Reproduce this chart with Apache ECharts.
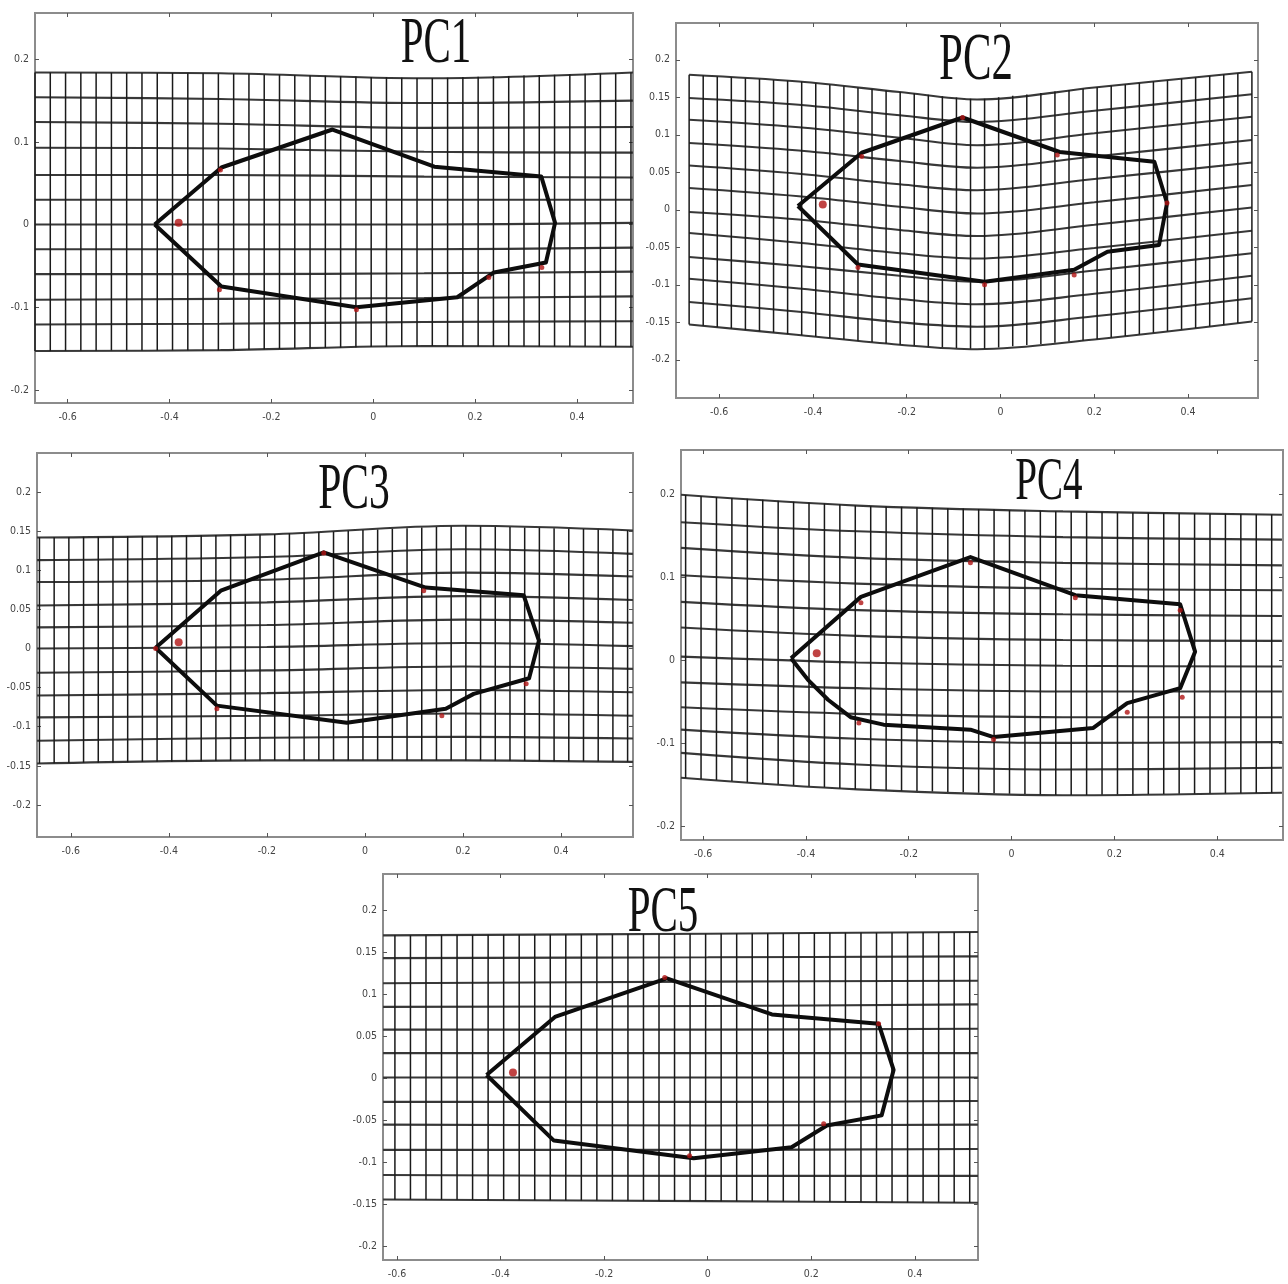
<!DOCTYPE html>
<html><head><meta charset="utf-8">
<script src="https://cdn.jsdelivr.net/npm/echarts@6/dist/echarts.min.js"></script>
<style>html,body{margin:0;padding:0;background:#fff}#c{width:1288px;height:1284px}</style>
</head><body><div id="c"></div>
<script>
// ---------- data ----------
const panelNames = ['PC1', 'PC2', 'PC3', 'PC4', 'PC5'];
const xTickValues = [-0.6, -0.4, -0.2, 0, 0.2, 0.4];
const yTicksCoarse = [-0.2, -0.1, 0, 0.1, 0.2];
const yTicksFine = [-0.2, -0.15, -0.1, -0.05, 0, 0.05, 0.1, 0.15, 0.2];

// x positions of the vertical lines of the deformation grids
const gridColumns = [-0.664, -0.634, -0.604, -0.574, -0.544, -0.514, -0.484, -0.454, -0.424, -0.394,
  -0.364, -0.334, -0.304, -0.274, -0.244, -0.214, -0.184, -0.154, -0.124, -0.094,
  -0.064, -0.034, -0.004, 0.026, 0.056, 0.086, 0.116, 0.146, 0.176, 0.206,
  0.236, 0.266, 0.296, 0.326, 0.356, 0.386, 0.416, 0.446, 0.476, 0.506, 0.536];

// horizontal grid lines: y at each station x (top row first)
const pc1Stations = [-0.664, -0.3, 0.1, 0.51];
const pc1Rows = [
  [0.184, 0.183, 0.177, 0.184], [0.154, 0.152, 0.147, 0.150], [0.124, 0.122, 0.117, 0.118], [0.093, 0.092, 0.088, 0.087],
  [0.060, 0.060, 0.058, 0.057], [0.030, 0.030, 0.030, 0.030], [0.000, 0.000, 0.000, 0.002], [-0.030, -0.030, -0.030, -0.028],
  [-0.060, -0.060, -0.059, -0.057], [-0.091, -0.090, -0.089, -0.087], [-0.121, -0.120, -0.118, -0.117], [-0.153, -0.152, -0.147, -0.148]];
const pc2Stations = [-0.664, -0.43, -0.215, -0.05, 0.2, 0.536];
const pc2Rows = [
  [0.180, 0.171, 0.157, 0.147, 0.163, 0.184], [0.149, 0.140, 0.126, 0.117, 0.132, 0.154],
  [0.120, 0.110, 0.096, 0.086, 0.102, 0.124], [0.089, 0.079, 0.065, 0.056, 0.071, 0.093],
  [0.059, 0.048, 0.034, 0.026, 0.041, 0.063], [0.029, 0.018, 0.004, -0.005, 0.010, 0.033],
  [-0.003, -0.013, -0.027, -0.035, -0.020, 0.003], [-0.031, -0.044, -0.058, -0.065, -0.051, -0.028],
  [-0.063, -0.075, -0.088, -0.096, -0.081, -0.058], [-0.092, -0.105, -0.119, -0.126, -0.112, -0.088],
  [-0.123, -0.136, -0.150, -0.156, -0.142, -0.118], [-0.153, -0.167, -0.180, -0.186, -0.173, -0.149]];
const pc3Stations = [-0.669, -0.2, 0.2, 0.547];
const pc3Rows = [
  [0.142, 0.146, 0.157, 0.151], [0.113, 0.117, 0.127, 0.121], [0.085, 0.088, 0.097, 0.092], [0.055, 0.059, 0.067, 0.062],
  [0.027, 0.030, 0.037, 0.033], [0.000, 0.002, 0.007, 0.003], [-0.031, -0.028, -0.023, -0.026], [-0.060, -0.057, -0.053, -0.056],
  [-0.088, -0.086, -0.083, -0.086], [-0.118, -0.114, -0.113, -0.115], [-0.147, -0.143, -0.143, -0.145]];
const pc4Stations = [-0.643, -0.3, 0.1, 0.526];
const pc4Rows = [
  [0.199, 0.186, 0.179, 0.175], [0.166, 0.155, 0.148, 0.145], [0.135, 0.123, 0.117, 0.114], [0.102, 0.092, 0.086, 0.084],
  [0.070, 0.060, 0.055, 0.053], [0.039, 0.029, 0.024, 0.023], [0.004, -0.003, -0.007, -0.008], [-0.027, -0.034, -0.038, -0.038],
  [-0.057, -0.065, -0.069, -0.069], [-0.084, -0.095, -0.100, -0.099], [-0.112, -0.126, -0.132, -0.130], [-0.142, -0.156, -0.163, -0.160]];
const pc5Stations = [-0.627, 0.0, 0.522];
const pc5Rows = [
  [0.170, 0.172, 0.174], [0.143, 0.144, 0.145], [0.113, 0.115, 0.116], [0.085, 0.086, 0.088],
  [0.058, 0.058, 0.059], [0.030, 0.030, 0.030], [0.001, 0.001, 0.001], [-0.028, -0.028, -0.027],
  [-0.055, -0.056, -0.055], [-0.085, -0.085, -0.084], [-0.115, -0.116, -0.116], [-0.144, -0.146, -0.148]];

// outlines (closed polygons)
const pc1OutlineX = [-0.429, -0.298, -0.080, 0.120, 0.330, 0.357, 0.339, 0.237, 0.165, -0.033, -0.298, -0.429];
const pc1OutlineY = [0.000, 0.069, 0.115, 0.070, 0.058, 0.002, -0.046, -0.058, -0.088, -0.100, -0.075, 0.000];
const pc2OutlineX = [-0.432, -0.296, -0.081, 0.126, 0.328, 0.355, 0.338, 0.228, 0.157, -0.034, -0.304, -0.432];
const pc2OutlineY = [0.005, 0.076, 0.123, 0.077, 0.064, 0.009, -0.047, -0.056, -0.080, -0.096, -0.073, 0.005];
const pc3OutlineX = [-0.427, -0.294, -0.084, 0.124, 0.324, 0.355, 0.335, 0.222, 0.165, -0.037, -0.302, -0.427];
const pc3OutlineY = [0.001, 0.074, 0.123, 0.078, 0.068, 0.010, -0.038, -0.058, -0.077, -0.095, -0.073, 0.001];
const pc4OutlineX = [-0.429, -0.293, -0.080, 0.124, 0.328, 0.357, 0.328, 0.225, 0.159, -0.035, -0.080, -0.249, -0.313, -0.357, -0.396, -0.429];
const pc4OutlineY = [0.002, 0.076, 0.124, 0.078, 0.067, 0.010, -0.034, -0.052, -0.082, -0.093, -0.084, -0.078, -0.069, -0.048, -0.024, 0.002];
const pc5OutlineX = [-0.427, -0.295, -0.079, 0.124, 0.330, 0.359, 0.336, 0.230, 0.162, -0.027, -0.297, -0.427];
const pc5OutlineY = [0.004, 0.073, 0.119, 0.076, 0.065, 0.010, -0.044, -0.056, -0.082, -0.095, -0.074, 0.004];

// red landmark points (first = interior landmark)
const pc1Landmarks = [[-0.382, 0.002], [-0.300, 0.066], [-0.302, -0.079], [0.227, -0.064], [-0.033, -0.103], [0.331, -0.052]];
const pc2Landmarks = [[-0.379, 0.007], [-0.296, 0.071], [0.355, 0.009], [0.157, -0.087], [-0.034, -0.100], [0.121, 0.073], [-0.304, -0.077], [-0.081, 0.123]];
const pc3Landmarks = [[-0.380, 0.008], [-0.427, 0.000], [-0.302, -0.077], [0.120, 0.074], [0.329, -0.045], [0.157, -0.086], [-0.084, 0.122]];
const pc4Landmarks = [[-0.379, 0.008], [-0.297, -0.076], [-0.293, 0.069], [-0.080, 0.117], [0.124, 0.075], [0.328, 0.060], [0.332, -0.045], [0.225, -0.063], [-0.035, -0.096]];
const pc5Landmarks = [[-0.376, 0.007], [-0.083, 0.120], [-0.035, -0.092], [0.224, -0.054], [0.330, 0.065]];

// ---------- layout (pixel boxes and axis ranges) ----------
const panels = [
  {box: [35, 13, 633, 403], xr: [-0.664, 0.51], yr: [-0.216, 0.256], yTicks: yTicksCoarse, st: pc1Stations, rows: pc1Rows, ox: pc1OutlineX, oy: pc1OutlineY, lm: pc1Landmarks, title: [436, 45, 65]},
  {box: [676, 23, 1258, 398], xr: [-0.692, 0.549], yr: [-0.251, 0.249], yTicks: yTicksFine, st: pc2Stations, rows: pc2Rows, ox: pc2OutlineX, oy: pc2OutlineY, lm: pc2Landmarks, title: [976, 61, 68]},
  {box: [37, 453, 633, 837], xr: [-0.669, 0.547], yr: [-0.241, 0.25], yTicks: yTicksFine, st: pc3Stations, rows: pc3Rows, ox: pc3OutlineX, oy: pc3OutlineY, lm: pc3Landmarks, title: [354, 491, 66]},
  {box: [681, 450, 1283, 840], xr: [-0.643, 0.528], yr: [-0.217, 0.253], yTicks: yTicksCoarse, st: pc4Stations, rows: pc4Rows, ox: pc4OutlineX, oy: pc4OutlineY, lm: pc4Landmarks, title: [1049, 483, 62]},
  {box: [383, 874, 978, 1260], xr: [-0.627, 0.522], yr: [-0.216, 0.243], yTicks: yTicksFine, st: pc5Stations, rows: pc5Rows, ox: pc5OutlineX, oy: pc5OutlineY, lm: pc5Landmarks, title: [663, 914, 65]}
];

function interp(st, vals, x) {
  if (x <= st[0]) return vals[0];
  for (let i = 1; i < st.length; i++) {
    if (x <= st[i]) {
      const t = (x - st[i - 1]) / (st[i] - st[i - 1]);
      return vals[i - 1] + t * (vals[i] - vals[i - 1]);
    }
  }
  return vals[vals.length - 1];
}

const labelFont = {fontSize: 10.5, color: '#444', fontFamily: '"DejaVu Sans Condensed", "Liberation Sans Narrow", "Liberation Sans", sans-serif'};
const tickStyle = {color: '#555', width: 1};
const grids = [], xAxes = [], yAxes = [], series = [], graphics = [];

panels.forEach((p, k) => {
  const [l, t, r, b] = p.box;
  grids.push({left: l, top: t, width: r - l, height: b - t, show: true, borderColor: '#8c8c8c', borderWidth: 2, backgroundColor: 'transparent'});
  const fmt = v => String(v);
  xAxes.push({type: 'value', gridIndex: k, position: 'bottom', min: p.xr[0], max: p.xr[1],
    axisLine: {show: false, onZero: false}, splitLine: {show: false},
    axisTick: {show: true, inside: true, length: 4, customValues: xTickValues, lineStyle: tickStyle},
    axisLabel: {show: true, customValues: xTickValues, formatter: fmt, margin: 9, ...labelFont}});
  xAxes.push({type: 'value', gridIndex: k, position: 'top', min: p.xr[0], max: p.xr[1],
    axisLine: {show: false, onZero: false}, splitLine: {show: false}, axisLabel: {show: false},
    axisTick: {show: true, inside: true, length: 4, customValues: xTickValues, lineStyle: tickStyle}});
  yAxes.push({type: 'value', gridIndex: k, position: 'left', min: p.yr[0], max: p.yr[1],
    axisLine: {show: false, onZero: false}, splitLine: {show: false},
    axisTick: {show: true, inside: true, length: 4, customValues: p.yTicks, lineStyle: tickStyle},
    axisLabel: {show: true, customValues: p.yTicks, formatter: fmt, margin: 6, ...labelFont}});
  yAxes.push({type: 'value', gridIndex: k, position: 'right', min: p.yr[0], max: p.yr[1],
    axisLine: {show: false, onZero: false}, splitLine: {show: false}, axisLabel: {show: false},
    axisTick: {show: true, inside: true, length: 4, customValues: p.yTicks, lineStyle: tickStyle}});

  const base = {type: 'line', xAxisIndex: 2 * k, yAxisIndex: 2 * k, symbol: 'none', silent: true, animation: false};
  // horizontal grid lines
  p.rows.forEach(row => {
    series.push({...base, smooth: 0.35, data: p.st.map((s, i) => [s, row[i]]), lineStyle: {color: '#383838', width: 2.1}});
  });
  // vertical grid lines
  const top = p.rows[0], bot = p.rows[p.rows.length - 1];
  gridColumns.forEach(c => {
    if (c < p.st[0] - 1e-9 || c > p.st[p.st.length - 1] + 1e-9) return;
    series.push({...base, data: [[c, interp(p.st, bot, c)], [c, interp(p.st, top, c)]], lineStyle: {color: '#1a1a1a', width: 1.5}});
  });
  // outline
  series.push({...base, z: 5, data: p.ox.map((x, i) => [x, p.oy[i]]), lineStyle: {color: '#0d0d0d', width: 4, join: 'round'}});
  // landmarks
  series.push({type: 'scatter', xAxisIndex: 2 * k, yAxisIndex: 2 * k, z: 6, silent: true, animation: false,
    data: p.lm, symbol: 'circle',
    symbolSize: (v, params) => params.dataIndex === 0 ? 8 : 5,
    itemStyle: {color: '#b01414'}});

  graphics.push({type: 'text', x: p.title[0], y: p.title[1], scaleX: 0.63, z: 100,
    style: {text: panelNames[k], fontSize: p.title[2], fontFamily: '"Liberation Serif", "DejaVu Serif", serif',
      fill: '#111', textAlign: 'center', textVerticalAlign: 'middle', align: 'center', verticalAlign: 'middle'}});
});

const chart = echarts.init(document.getElementById('c'), null, {renderer: 'canvas'});
chart.setOption({animation: false, backgroundColor: '#fff', grid: grids, xAxis: xAxes, yAxis: yAxes, series: series, graphic: graphics});
</script></body></html>
